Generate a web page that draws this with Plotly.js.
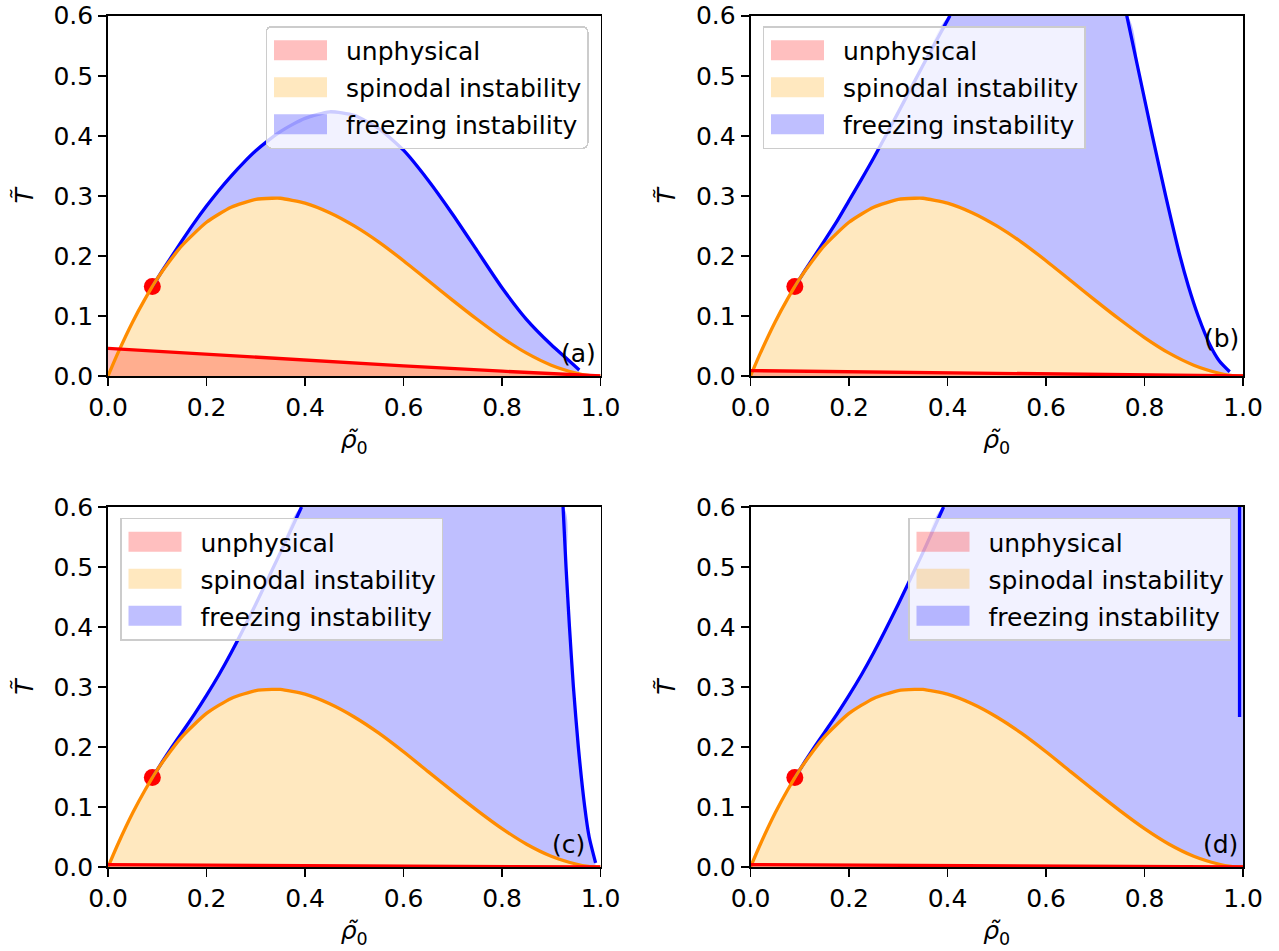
<!DOCTYPE html>
<html><head><meta charset="utf-8">
<script src="https://cdn.plot.ly/plotly-3.0.1.min.js"></script>
<style>body{margin:0;background:#fff;} #chart{width:1279px;height:951px;}</style>
</head><body><div id="chart"></div>
<script>
// ---------- data ----------
const X_MAX = 1.0;
const Y_MAX = 0.6;

// spinodal curve (same in all panels)
const rhoSpinodal = [0,0.02,0.05,0.075,0.1,0.125,0.15,0.2,0.25,0.3,0.333,0.35,0.4,0.45,0.5,0.55,0.6,0.65,0.7,0.75,0.8,0.85,0.9,0.95,0.975,1.0];
const tSpinodal   = [0,0.038,0.090,0.128,0.162,0.191,0.217,0.256,0.281,0.294,0.296,0.296,0.288,0.272,0.250,0.223,0.192,0.159,0.126,0.094,0.064,0.038,0.018,0.005,0.001,0];

// unphysical boundary
const rhoUnphys = [0,0.2,0.4,0.6,0.8,1.0];
const tUnphysA = [0.046,0.036,0.027,0.017,0.008,0.0];
const tUnphysB = [0.009,0.007,0.005,0.003,0.0015,0.0];
const tUnphysC = [0.004,0.003,0.002,0.0012,0.0006,0.0];
const tUnphysD = [0.004,0.003,0.002,0.0012,0.0006,0.0];

// freezing instability boundary, left (rising) branch
const rhoFreezeLeftA = [0.09,0.11,0.13,0.15,0.175,0.2,0.225,0.25,0.275,0.3,0.325,0.35,0.375,0.4,0.45,0.5,0.55,0.6,0.65,0.7,0.75,0.8,0.85,0.9,0.93,0.957];
const tFreezeLeftA   = [0.149,0.175,0.2,0.225,0.255,0.283,0.309,0.333,0.355,0.375,0.392,0.407,0.419,0.429,0.440,0.434,0.412,0.376,0.326,0.269,0.208,0.147,0.094,0.052,0.030,0.010];
const rhoFreezeLeftB = [0.09,0.11,0.13,0.15,0.175,0.2,0.225,0.25,0.3,0.35,0.405];
const tFreezeLeftB   = [0.149,0.175,0.2,0.225,0.257,0.292,0.327,0.363,0.439,0.517,0.6];
const rhoFreezeLeftC = [0.09,0.11,0.13,0.15,0.175,0.2,0.225,0.25,0.3,0.35,0.393];
const tFreezeLeftC   = [0.149,0.175,0.2,0.224,0.254,0.286,0.320,0.357,0.438,0.524,0.6];
const rhoFreezeLeftD = [0.09,0.11,0.13,0.15,0.175,0.2,0.225,0.25,0.3,0.35,0.392];
const tFreezeLeftD   = [0.149,0.175,0.2,0.224,0.254,0.286,0.320,0.357,0.438,0.524,0.6];

// freezing instability boundary, right (falling) branch
const rhoFreezeRightA = [];
const tFreezeRightA   = [];
const rhoFreezeRightB = [0.764,0.790,0.816,0.843,0.872,0.889,0.909,0.934,0.952,0.973];
const tFreezeRightB   = [0.6,0.5,0.4,0.3,0.2,0.15,0.1,0.05,0.025,0.007];
const rhoFreezeRightC = [0.924,0.930,0.937,0.945,0.955,0.968,0.977,0.990];
const tFreezeRightC   = [0.6,0.5,0.4,0.3,0.2,0.1,0.05,0.007];
const rhoFreezeRightD = [0.993,0.993];
const tFreezeRightD   = [0.6,0.25];

// marked point
const rhoPoint = [0.09];
const tPoint   = [0.149];

// panel labels
const panelLabels = ['(a)','(b)','(c)','(d)'];
const labelRho = [0.956,0.956,0.936,0.955];
const labelT   = [0.037,0.063,0.038,0.038];

const legendNames = ['unphysical','spinodal instability','freezing instability'];
const xTitle = '<i>ρ̃</i><sub>0</sub>';
const yTitle = '<i>T̃</i>';
const xTickVals = [0,0.2,0.4,0.6,0.8,1.0];
const yTickVals = [0,0.1,0.2,0.3,0.4,0.5,0.6];

// ---------- styling ----------
const C_RED = '#ff0000', C_ORANGE = '#ff8c00', C_BLUE = '#0000ff';
const F_RED = 'rgba(255,0,0,0.25)', F_ORANGE = 'rgba(255,165,0,0.25)', F_BLUE = 'rgba(0,0,255,0.25)';
const FONT = 'DejaVu Sans, Liberation Sans, sans-serif';
const FS = 25;
const LW = 3.3;

const panels = [
  {unT:tUnphysA, lr:rhoFreezeLeftA, lt:tFreezeLeftA, rr:rhoFreezeRightA, rt:tFreezeRightA, toEdge:false,
   xd:[108/1279, 600.5/1279], yd:[1-376/951, 1-15.7/951],
   leg:{x:588.5/1279, xanchor:'right', y:1-26/951}},
  {unT:tUnphysB, lr:rhoFreezeLeftB, lt:tFreezeLeftB, rr:rhoFreezeRightB, rt:tFreezeRightB, toEdge:false,
   xd:[750.5/1279, 1243/1279], yd:[1-376/951, 1-15.7/951],
   leg:{x:762.5/1279, xanchor:'left', y:1-26/951}},
  {unT:tUnphysC, lr:rhoFreezeLeftC, lt:tFreezeLeftC, rr:rhoFreezeRightC, rt:tFreezeRightC, toEdge:false,
   xd:[108/1279, 600.5/1279], yd:[1-867/951, 1-507/951],
   leg:{x:120/1279, xanchor:'left', y:1-517.5/951}},
  {unT:tUnphysD, lr:rhoFreezeLeftD, lt:tFreezeLeftD, rr:rhoFreezeRightD, rt:tFreezeRightD, toEdge:true,
   xd:[750.5/1279, 1243/1279], yd:[1-867/951, 1-507/951],
   leg:{x:1231/1279, xanchor:'right', y:1-517.5/951}}
];

const traces = [];
const layout = {
  width:1279, height:951,
  margin:{l:0,r:0,t:0,b:0},
  paper_bgcolor:'white', plot_bgcolor:'white',
  font:{family:FONT, size:FS, color:'black'},
  showlegend:true,
  annotations:[]
};

panels.forEach((p, i) => {
  const n = i === 0 ? '' : String(i+1);
  const xa = 'x' + n, ya = 'y' + n;
  const legId = 'legend' + n;
  const base = {type:'scatter', xaxis:xa, yaxis:ya, hoverinfo:'skip', showlegend:false};

  // upper boundary of freezing region
  let upR = p.lr.slice(), upT = p.lt.slice();
  if (p.toEdge) {
    upR.push(X_MAX, X_MAX);
    upT.push(Y_MAX, tSpinodal[tSpinodal.length-1]);
  } else {
    upR = upR.concat(p.rr); upT = upT.concat(p.rt);
  }
  const r0 = upR[0], r1 = upR[upR.length-1];
  const loR = [r0], loT = [upT[0]];
  rhoSpinodal.forEach((r, k) => { if (r > r0 && r < r1) { loR.push(r); loT.push(tSpinodal[k]); } });
  loR.push(r1); loT.push(p.toEdge ? upT[upT.length-1] : Math.min(upT[upT.length-1], 0.004));

  const sp = {shape:'spline', smoothing:0.6};
  // fills
  traces.push(Object.assign({}, base, {x:rhoSpinodal, y:tSpinodal, mode:'lines', line:Object.assign({width:0}, sp), fill:'tozeroy', fillcolor:F_ORANGE}));
  traces.push(Object.assign({}, base, {x:rhoUnphys, y:p.unT, mode:'lines', line:{width:0}, fill:'tozeroy', fillcolor:F_RED}));
  traces.push(Object.assign({}, base, {x:loR, y:loT, mode:'lines', line:Object.assign({width:0}, sp)}));
  traces.push(Object.assign({}, base, {x:upR, y:upT, mode:'lines', line:Object.assign({width:0}, sp), fill:'tonexty', fillcolor:F_BLUE}));

  // point
  traces.push(Object.assign({}, base, {x:rhoPoint, y:tPoint, mode:'markers', marker:{color:C_RED, size:17}, cliponaxis:false}));

  // lines
  traces.push(Object.assign({}, base, {x:p.lr, y:p.lt, mode:'lines', line:Object.assign({color:C_BLUE, width:LW}, sp)}));
  if (p.rr.length) traces.push(Object.assign({}, base, {x:p.rr, y:p.rt, mode:'lines', line:Object.assign({color:C_BLUE, width:LW}, sp)}));
  traces.push(Object.assign({}, base, {x:rhoSpinodal, y:tSpinodal, mode:'lines', line:Object.assign({color:C_ORANGE, width:LW}, sp)}));
  traces.push(Object.assign({}, base, {x:rhoUnphys, y:p.unT, mode:'lines', line:{color:C_RED, width:LW}}));

  // legend entries (patches)
  [F_RED, F_ORANGE, F_BLUE].forEach((c, k) => {
    traces.push({type:'scatter', xaxis:xa, yaxis:ya, x:[null], y:[null], name:legendNames[k],
      legend:legId, legendgroup:legId+'g'+k, showlegend:true, hoverinfo:'skip',
      mode:'lines', line:{color:c, width:10}});
  });

  const axCommon = {showline:true, linecolor:'black', linewidth:1.8, mirror:true,
    ticks:'outside', ticklen:8, tickwidth:1.8, tickcolor:'black',
    showgrid:false, zeroline:false, tickfont:{size:FS, family:FONT}, fixedrange:true};
  layout['xaxis' + n] = Object.assign({}, axCommon, {domain:p.xd, anchor:ya, range:[0, X_MAX],
    tickvals:xTickVals, tickformat:'.1f',
    title:{text:xTitle, font:{size:FS, family:FONT}, standoff:10}});
  layout['yaxis' + n] = Object.assign({}, axCommon, {domain:p.yd, anchor:xa, range:[0, Y_MAX],
    tickvals:yTickVals, tickformat:'.1f',
    title:{text:yTitle, font:{size:FS, family:FONT}, standoff:13}});

  layout[legId] = {x:p.leg.x, xanchor:p.leg.xanchor, y:p.leg.y, yanchor:'top',
    bgcolor:'rgba(255,255,255,0.8)', bordercolor:'#cccccc', borderwidth:1.5,
    font:{size:FS, family:FONT}, itemwidth:69, tracegroupgap:1.5, traceorder:'grouped'};

  layout.annotations.push({xref:xa, yref:ya, x:labelRho[i], y:labelT[i], text:panelLabels[i],
    showarrow:false, font:{size:FS, family:FONT}, xanchor:'center', yanchor:'middle'});
});

Plotly.newPlot('chart', traces, layout, {displayModeBar:false, staticPlot:true}).then(gd => {
  // matplotlib-style rectangular patches and rounded legend frame
  gd.querySelectorAll('.legendlines path').forEach(el => {
    el.setAttribute('d', 'M7,0h53');
    el.style.strokeWidth = '20px';
  });
  gd.querySelectorAll('g.legend rect.bg').forEach(el => {
    el.setAttribute('rx', 5); el.setAttribute('ry', 5);
  });
});
</script>
</body></html>
